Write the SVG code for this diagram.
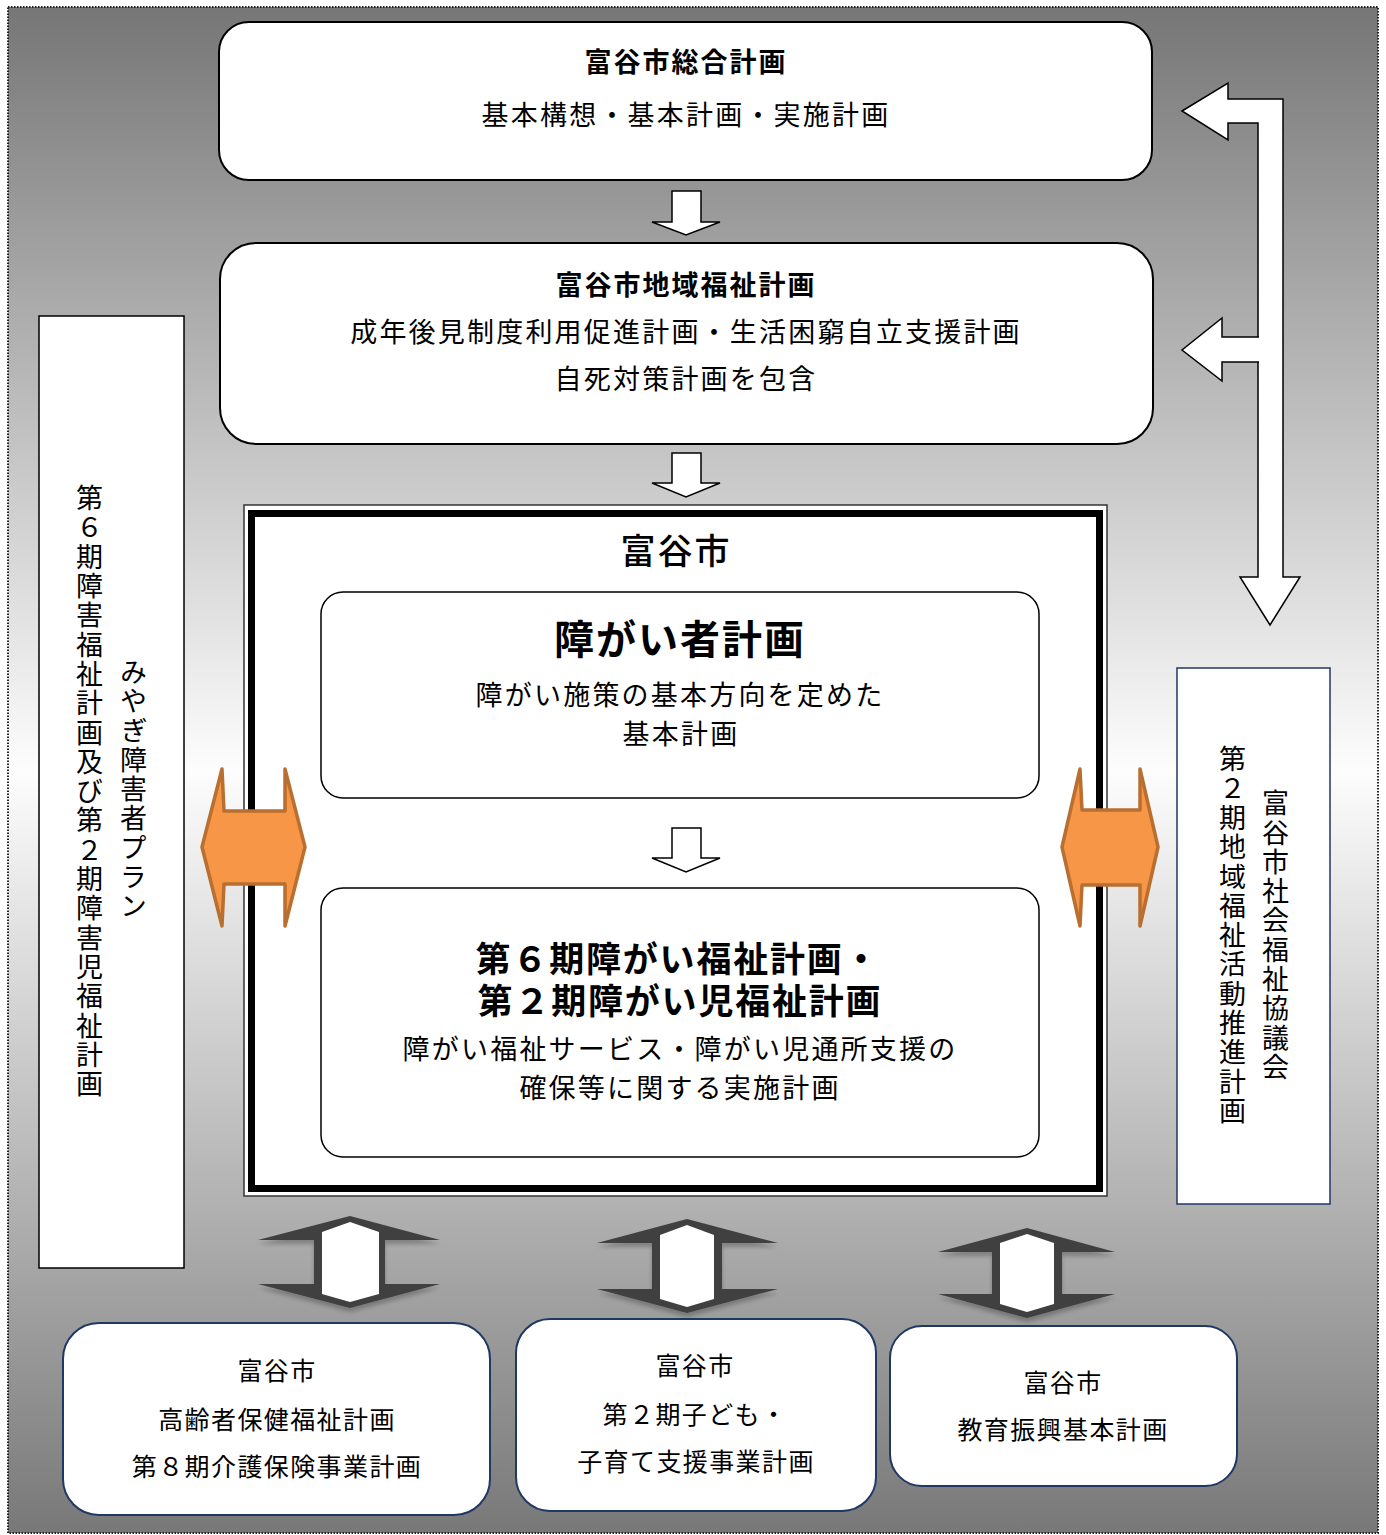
<svg xmlns="http://www.w3.org/2000/svg" width="1386" height="1535" viewBox="0 0 1386 1535">
<defs>
<linearGradient id="bg" x1="0" y1="0" x2="0" y2="1">
<stop offset="0" stop-color="#767676"/>
<stop offset="0.5" stop-color="#fdfdfd"/>
<stop offset="1" stop-color="#787878"/>
</linearGradient>
<filter id="sh" x="-20%" y="-20%" width="140%" height="150%">
<feGaussianBlur in="SourceAlpha" stdDeviation="2"/>
<feOffset dx="0" dy="4" result="b"/>
<feComponentTransfer><feFuncA type="linear" slope="0.25"/></feComponentTransfer>
<feMerge><feMergeNode/><feMergeNode in="SourceGraphic"/></feMerge>
</filter>
</defs>
<style>
text{font-family:"Liberation Sans","Noto Sans CJK JP","Noto Sans CJK SC",sans-serif;fill:#000;text-anchor:middle}
.t{font-size:27px;letter-spacing:2.2px}
.tb{font-size:27px;letter-spacing:2px;font-weight:bold}
.s{font-size:25px;letter-spacing:1.4px}
.v{font-size:27px;letter-spacing:2.3px;writing-mode:vertical-rl}
.box{fill:#fff;stroke:#000;stroke-width:2}
.nbox{fill:#fff;stroke:#1f3864;stroke-width:2}
.wa{fill:#fff;stroke:#000;stroke-width:1.5;stroke-linejoin:miter}
.oa{fill:#f79646;stroke:#b86f30;stroke-width:3.5;stroke-linejoin:round}
.da{fill:#404040}
</style>
<rect x="8" y="7" width="1370" height="1526" fill="url(#bg)" stroke="#222" stroke-width="2" stroke-dasharray="1.5 1.5"/>

<g id="sogo">
<rect class="box" x="219" y="22" width="933" height="158" rx="30"/>
<text class="tb" x="686" y="72">富谷市総合計画</text>
<text class="t" x="686" y="125">基本構想・基本計画・実施計画</text>
</g>

<g id="chiiki">
<rect class="box" x="220" y="243" width="933" height="201" rx="36"/>
<text class="tb" x="686" y="295">富谷市地域福祉計画</text>
<text class="t" x="686" y="342">成年後見制度利用促進計画・生活困窮自立支援計画</text>
<text class="t" x="686" y="389">自死対策計画を包含</text>
</g>

<g id="tomiya">
<rect x="244" y="505" width="863" height="691" fill="#fff" stroke="#333" stroke-width="1.5"/>
<rect x="251.5" y="513.5" width="848" height="675" fill="#fff" stroke="#000" stroke-width="7"/>
<text x="676" y="564" style="font-size:35px;letter-spacing:2px;font-weight:500">富谷市</text>
</g>

<g id="shogaisha">
<rect x="321" y="592" width="718" height="206" rx="22" fill="#fff" stroke="#000" stroke-width="1.5"/>
<text x="680" y="654" style="font-size:40px;letter-spacing:2px;font-weight:bold">障がい者計画</text>
<text class="t" x="680" y="705">障がい施策の基本方向を定めた</text>
<text class="t" x="681" y="744">基本計画</text>
</g>

<g id="fukushi">
<rect x="321" y="888" width="718" height="269" rx="22" fill="#fff" stroke="#000" stroke-width="1.5"/>
<text x="678" y="972" style="font-size:35px;letter-spacing:1.8px;font-weight:bold">第６期障がい福祉計画・</text>
<text x="680" y="1014" style="font-size:35px;letter-spacing:1.8px;font-weight:bold">第２期障がい児福祉計画</text>
<text class="t" x="680" y="1059">障がい福祉サービス・障がい児通所支援の</text>
<text class="t" x="680" y="1098">確保等に関する実施計画</text>
</g>

<g id="miyagi">
<rect x="39" y="316" width="145" height="952" fill="#fff" stroke="#000" stroke-width="1.5"/>
<text class="v" x="131" y="790">みやぎ障害者プラン</text>
<text class="v" x="87" y="792">第６期障害福祉計画及び第２期障害児福祉計画</text>
</g>

<g id="shakyo">
<rect x="1177" y="668" width="153" height="536" fill="#fff" stroke="#1f3864" stroke-width="1.5"/>
<text class="v" x="1273" y="936">富谷市社会福祉協議会</text>
<text class="v" x="1230" y="936">第２期地域福祉活動推進計画</text>
</g>

<g id="koreisha">
<rect class="nbox" x="63" y="1323" width="427" height="192" rx="36"/>
<text class="s" x="277" y="1380">富谷市</text>
<text class="s" x="277" y="1429">高齢者保健福祉計画</text>
<text class="s" x="277" y="1476">第８期介護保険事業計画</text>
</g>

<g id="kodomo">
<rect class="nbox" x="516" y="1319" width="360" height="192" rx="34"/>
<text class="s" x="695" y="1375">富谷市</text>
<text class="s" x="695" y="1424">第２期子ども・</text>
<text class="s" x="696" y="1471">子育て支援事業計画</text>
</g>

<g id="kyoiku">
<rect class="nbox" x="890" y="1326" width="347" height="160" rx="32"/>
<text class="s" x="1063" y="1392">富谷市</text>
<text class="s" x="1063" y="1439">教育振興基本計画</text>
</g>

<g id="connectors">
<polygon class="wa" points="672,191 701,191 701,222 720,222 686,235 652,222 672,222"/>
<polygon class="wa" points="672,453 701,453 701,483 720,483 686,497 652,483 672,483"/>
<polygon class="wa" points="672,828 701,828 701,858 720,858 686,872 652,858 672,858"/>
<polygon class="wa" points="1182,111 1228,83 1228,99 1283,99 1283,577 1300,577 1270,625 1240,577 1258,577 1258,123 1228,123 1228,140"/>
<path class="wa" d="M1259,337 H1222 V318 L1182,350 L1222,381 V362 H1259"/>
<polygon class="oa" points="202,847 222,769 224,811 285,811 285,769 305,847 285,926 285,884 224,884 222,926"/>
<polygon class="oa" points="1062,847 1080,769 1082,810 1140,810 1140,769 1158,847 1140,926 1140,885 1082,885 1080,926"/>
<g filter="url(#sh)">
<polygon class="da" points="350,1216 440,1240 385,1240 385,1284 440,1284 350,1308 258,1284 314,1284 314,1240 258,1240"/>
<polygon fill="#fff" points="350,1222 379,1232 379,1294 350,1302 322,1294 322,1232"/>
<polygon class="da" points="687,1219 778,1243 722,1243 722,1289 778,1289 687,1313 597,1289 652,1289 652,1243 597,1243"/>
<polygon fill="#fff" points="687,1225 714,1235 714,1299 687,1307 660,1299 660,1235"/>
<polygon class="da" points="1027,1228 1115,1252 1062,1252 1062,1294 1115,1294 1027,1318 938,1294 992,1294 992,1252 938,1252"/>
<polygon fill="#fff" points="1027,1234 1054,1243 1054,1304 1027,1312 1000,1304 1000,1243"/>
</g>
</g>
</svg>
